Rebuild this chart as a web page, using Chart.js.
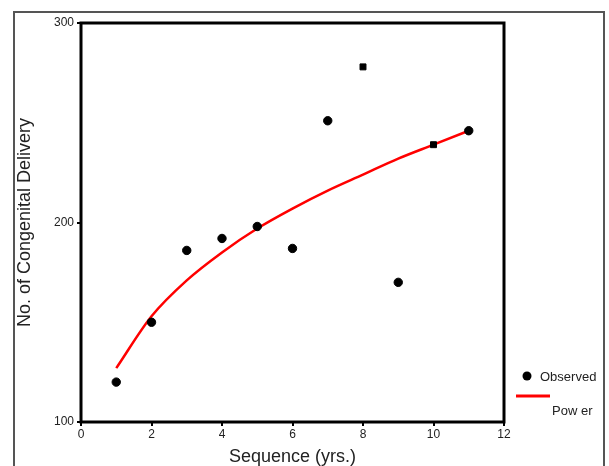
<!DOCTYPE html>
<html>
<head>
<meta charset="utf-8">
<script src="https://cdn.jsdelivr.net/npm/chart.js@4/dist/chart.umd.min.js"></script>
<style>
  html, body { margin: 0; padding: 0; background: #fff; }
  #wrap { width: 609px; height: 466px; }
</style>
</head>
<body>
<div id="wrap"><canvas id="chart" width="609" height="466"></canvas></div>
<script>
// Observed values
const years = [1, 2, 3, 4, 5, 6, 7, 8, 9, 10, 11];
const observed = [120, 150, 186, 192, 198, 187, 251, 278, 170, 239, 246];
const markerStyles = ['circle', 'circle', 'circle', 'circle', 'circle', 'circle', 'circle', 'rect', 'circle', 'rect', 'circle'];

// Power trend line
const powerX = [1, 2, 3, 4, 5, 6, 7, 8, 9, 10, 11];
const powerY = [127, 153, 171, 185, 197, 207, 216, 224, 232, 239, 246];

const xTicks = [0, 2, 4, 6, 8, 10, 12];
const yTicks = [100, 200, 300];

const font = 'Liberation Sans';

const frame = {
  id: 'frame',
  beforeDraw(chart) {
    const c = chart.ctx;
    c.save();
    // outer page frame
    c.strokeStyle = '#555';
    c.lineWidth = 2;
    c.beginPath();
    c.moveTo(14, 466);
    c.lineTo(14, 12);
    c.lineTo(604, 12);
    c.lineTo(604, 466);
    c.stroke();
    c.restore();
  },
  afterDatasetsDraw(chart) {
    const c = chart.ctx;
    const a = chart.chartArea;
    c.save();
    c.strokeStyle = '#000';
    c.lineWidth = 3;
    c.strokeRect(a.left, a.top, a.right - a.left, a.bottom - a.top);

    // legend
    c.fillStyle = '#000';
    c.beginPath();
    c.arc(527, 376, 4.5, 0, Math.PI * 2);
    c.fill();
    c.font = '13px "' + font + '"';
    c.textBaseline = 'middle';
    c.fillStyle = '#222';
    c.fillText('Observed', 540, 377);
    c.strokeStyle = '#ff0000';
    c.lineWidth = 3;
    c.beginPath();
    c.moveTo(516, 396);
    c.lineTo(550, 396);
    c.stroke();
    c.fillText('Pow er', 552, 411);
    c.restore();
  }
};

new Chart(document.getElementById('chart'), {
  type: 'scatter',
  data: {
    datasets: [
      {
        label: 'Power',
        data: powerX.map((x, i) => ({ x: x, y: powerY[i] })),
        showLine: true,
        borderColor: '#ff0000',
        borderWidth: 2.5,
        pointRadius: 0,
        cubicInterpolationMode: 'monotone',
        order: 2
      },
      {
        label: 'Observed',
        data: years.map((x, i) => ({ x: x, y: observed[i] })),
        backgroundColor: '#000',
        borderColor: '#000',
        pointStyle: markerStyles,
        pointRadius: 4.2,
        order: 1
      }
    ]
  },
  options: {
    responsive: false,
    animation: false,
    layout: { padding: { left: 0, right: 105, top: 23, bottom: 0 } },
    plugins: { legend: { display: false }, tooltip: { enabled: false } },
    scales: {
      x: {
        type: 'linear',
        min: 0,
        max: 12,
        afterBuildTicks: s => { s.ticks = xTicks.map(v => ({ value: v })); },
        afterFit: s => { s.height = 44; },
        grid: { drawOnChartArea: false, drawTicks: true, tickLength: 4, color: '#000', lineWidth: 2 },
        border: { display: false },
        ticks: { color: '#222', font: { family: font, size: 12 }, padding: 1, maxRotation: 0 },
        title: { display: true, text: 'Sequence (yrs.)', color: '#222', font: { family: font, size: 18 }, padding: { top: -2, bottom: -2 } }
      },
      y: {
        min: 100,
        max: 300,
        afterBuildTicks: s => { s.ticks = yTicks.map(v => ({ value: v })); },
        afterFit: s => { s.width = 81; },
        grid: { drawOnChartArea: false, drawTicks: true, tickLength: 4, color: '#000', lineWidth: 2 },
        border: { display: false },
        ticks: { color: '#222', font: { family: font, size: 12 }, padding: 3 },
        title: { display: true, text: 'No. of Congenital Delivery', color: '#222', font: { family: font, size: 18 }, padding: { top: 14, bottom: 0 } }
      }
    }
  },
  plugins: [frame]
});
</script>
</body>
</html>
